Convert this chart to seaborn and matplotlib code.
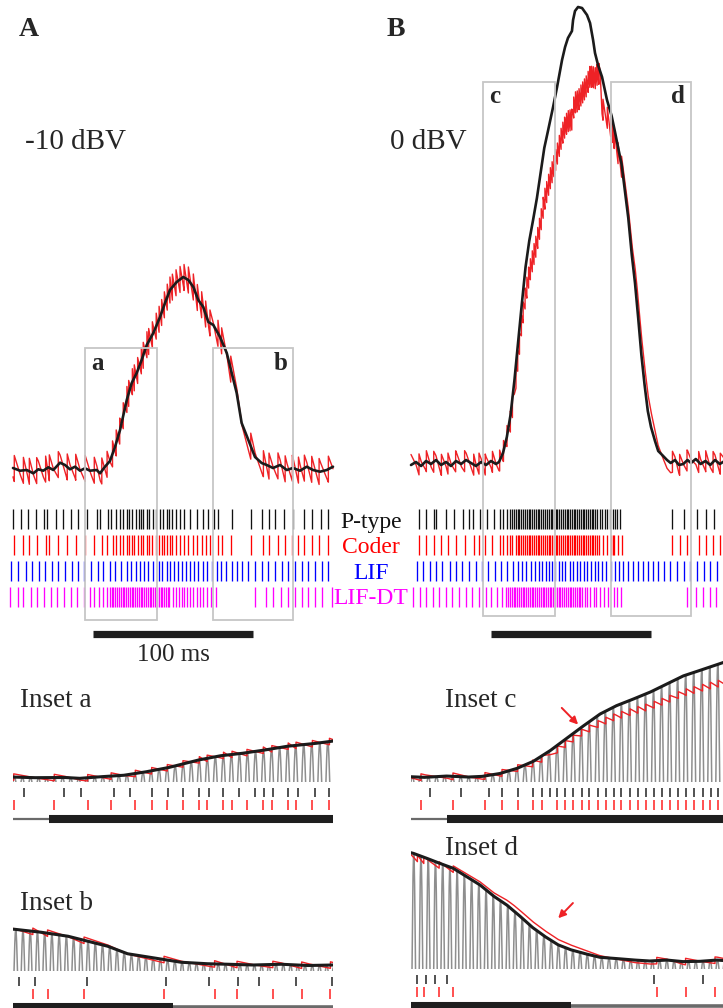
import numpy as np
import matplotlib
matplotlib.use("Agg")
import matplotlib.pyplot as plt
from matplotlib.patches import Rectangle
from matplotlib.transforms import blended_transform_factory
import seaborn as sns

sns.set_style("white")
plt.rcParams["font.family"] = ["Liberation Serif", "DejaVu Serif"]

# ---------------------------------------------------------------- data
# Stimulus amplitude envelope, panel A (-10 dBV): time (ms), amplitude (a.u.)
A_ENV_T = [0, 4.4, 8.6, 12.7, 15.8, 18.9, 22.1, 25.2, 29.4, 32.5, 35.6, 38.75, 41.9, 45, 48.1,
           52.3, 54.4, 57.5, 60.6, 63.75, 66.9, 71.1, 74.2, 77.3, 80.4, 83.6, 87.7, 91.9, 95,
           98.1, 102.3, 106.4, 109.6, 112.7, 115.8, 118.9, 122.1, 125.2, 129.4, 133.6, 136.7,
           139.8, 142.9, 147.1, 151.25, 155.4, 158.6, 162.5, 166.9, 171.1, 175, 179.4, 183.6,
           187.5, 191.9, 196.1, 200]
A_ENV_U = [2, -0.7, 0, -3.3, 0.7, -0.7, 2.7, 0, 7.3, 5, 0.7, 3.3, -0.7, 1.7, -0.7,
           0, -3.3, 3.3, 9, 23, 40, 70, 87, 97, 110, 125, 137, 153, 167,
           180, 188, 193, 190, 183, 170, 163, 148, 145, 133, 117, 97,
           77, 47, 30, 13, 7, 5, 2, 5, 0, 2, -0.7, 3.3,
           0, -1.7, 0, 3.3]

# Stimulus amplitude envelope, panel B (0 dBV)
B_ENV_T = [0, 3.1, 6.3, 9.4, 12.5, 15.6, 18.8, 21.9, 25.0, 28.1, 31.3, 34.4, 37.5, 40.6, 43.8,
           46.9, 50.0, 53.1, 55.0, 57.5, 59.9, 62.2, 64.6, 66.9, 69.2, 71.6, 73.9, 76.3, 78.7,
           81.0, 83.3, 85.6, 88.8, 91.3, 94.4, 96.3, 98.1, 100.6, 101.3, 102.5, 104.4, 106.9,
           110.0, 111.9, 113.8, 115.0, 116.9, 119.4, 122.5, 125.4, 127.5, 129.5, 131.6, 133.7,
           135.8, 138.0, 140.0, 142.0, 144.0, 146.0, 148.0, 150.0, 152.5, 154.5, 157.0, 160.0,
           162.3, 165.0, 167.5, 170.2, 172.8, 175.0, 178.0, 181.0, 184.0, 187.0, 190.0, 193.0,
           196.0, 200.0]
B_ENV_U = [-2, 1, -3, 2, -1, 3, -2, 1, -3, 2, -1, 3, 0, -3, 1,
           -2, 2, -1, 1, 10, 26, 48, 82, 120, 158, 196, 222, 243, 265,
           290, 315, 332, 356, 376, 403, 416, 425, 432, 443, 452, 456, 455,
           448, 440, 423, 410, 398, 386, 363, 347, 331, 315, 299, 272,
           245, 208, 180, 145, 108, 78, 52, 36, 22, 12, 8, 3,
           0, 3, -2, -1, 3, 0, 4, -1, 2, -2, 3, -1,
           2, 0]

# Lag of the Coder reconstruction behind the envelope in panel B
B_LAG_T = [0, 60, 64.5, 69, 71.6, 76.3, 81, 86.9, 88.8, 93.1, 97.5, 101.3, 104.4, 107, 110,
           113.8, 116.9, 118.2, 119.4, 122.5, 126.3, 130.6, 133.7, 138, 141, 144, 147, 150,
           153, 157, 160, 200]
B_LAG_U = [0, 0, -12, -17, -28, -38, -50, -58, -62, -72, -82, -90, -94, -85, -70,
           -37, -8, -4, -31, -17, -11, -4, 0, 5, 14, 17, 18, 17,
           13, 5, 0, 0]

# Spike times (ms)
A_PTYPE = [0.0, 4.8, 9.6, 14.4, 19.6, 21.1, 26.9, 31.4, 36.3, 40.8,
           46.5, 52.2, 54.6, 59.2, 61.5, 64.6, 66.8, 68.9, 71.2, 72.6, 74.6, 76.8, 79.0, 80.3,
           81.5, 83.7, 85.1, 87.5, 89.5,
           91.9, 93.9, 96.0, 97.7, 99.6, 101.9, 104.4, 106.9, 110.6, 115.2, 118.9, 122.1,
           125.9, 128.4, 136.6, 148.9, 155.7, 160.1, 163.5, 169.2, 174.8,
           182.1, 187.1, 192.5, 197.1]
A_CODER = [0.8, 6.5, 10.2, 14.8, 20.4, 22.7, 28.3, 33.9, 39.2,
           45.1, 50.8, 55.5, 58.8, 62.2, 64.5, 66.7, 68.9, 71.2, 72.3, 74.6, 75.8, 77.9, 80.2,
           81.4, 83.7, 84.8, 87.1, 89.5,
           91.3, 92.9, 94.6, 96.4, 98.1, 99.6, 101.9, 104.4, 106.9, 109.6, 112.7, 115.2, 117.9,
           120.4, 123.1,
           128.1, 130.4, 136.1, 148.6, 156.5, 160.0, 165.6, 170.1, 174.6,
           178.4, 182.1, 186.7, 191.3, 197.1]
A_LIF = [-1.2, 3.3, 7.9, 11.7, 16.3, 20.0, 24.2, 28.3, 32.5, 36.7, 40.4, 44.6, 48.8, 52.9,
         56.4, 60.6, 63.8, 67.5, 71.1, 73.8, 76.7, 79.4, 82.1, 84.6, 87.7, 91.3, 93.3, 96.1,
         98.1, 100.6, 103.3, 105.8, 108.1, 110.6, 113.3, 115.8, 118.5, 121.4, 124.2, 127.3,
         130.0, 133.1, 136.7, 139.8, 143.3, 147.1, 151.3, 155.4, 159.6, 163.8, 167.9, 172.1,
         176.3, 180.4, 184.6, 188.8, 192.9, 197.1]
A_LIFDT = [-1.9, 2.9, 6.4, 11.0, 15.2, 19.4, 23.8, 27.7, 31.9, 36.1, 40.2, 44.4, 48.1, 50.8,
           53.8, 56.4, 58.5, 60.6,
           61.7, 62.8, 64.0, 65.1, 66.2, 67.4, 68.5, 69.6, 70.7, 71.9, 73.0, 74.1, 75.3, 76.4,
           77.5, 78.6, 79.8, 80.9, 82.0, 83.2, 84.3, 85.4, 86.5, 87.7, 88.8, 89.9, 91.1, 92.2,
           93.3, 94.4, 95.6, 96.7, 97.8,
           100.2, 101.9, 103.8, 105.4, 107.1, 108.9, 110.6, 112.7, 114.8, 116.9, 118.9, 121.4,
           123.5, 126.7,
           151.3, 157.9, 162.7, 167.3, 172.1, 176.3, 180.4, 184.6, 188.8, 192.9, 199.5]

B_PTYPE = [5.0, 9.6, 14.4, 15.8, 22.1, 26.9, 32.5, 36.3, 38.8, 43.3,
           47.7, 52.1, 55.9, 57.8, 60.1, 62.1, 63.4, 64.6, 65.6, 66.7, 67.8, 69.0, 70.1, 71.3,
           72.4, 73.5, 74.6, 75.8, 76.9, 78.0, 79.2, 80.3, 81.4, 82.6, 83.7, 84.8, 86.0, 87.2,
           88.2,
           89.3, 90.4, 91.5, 92.7, 93.8, 94.9, 96.0, 97.2, 98.3, 99.4, 100.5, 101.7, 102.8,
           103.9, 105.0, 106.2, 107.3, 108.4, 109.5, 110.7, 111.8, 112.9, 114.0, 115.2, 116.3,
           117.9, 119.6, 121.1, 122.7, 124.2,
           126.0, 127.3, 128.8, 130.7, 162.9, 170.6,
           178.8, 184.2, 189.2]
B_CODER = [5.0, 9.6, 14.2, 19.0, 23.1, 27.9, 33.5, 39.2, 42.5,
           46.4, 50.9, 55.4, 57.8, 60.0, 62.1, 63.4, 65.6, 66.7, 67.8, 69.0, 70.1, 71.3, 72.4,
           73.5, 74.6, 75.8, 76.9, 78.0, 79.2, 80.3, 81.4, 82.6, 83.7, 84.8, 86.0, 87.1, 88.2,
           89.3, 90.4, 91.5, 92.7, 93.8, 94.9, 96.0, 97.2, 98.3, 99.4, 100.5, 101.7, 102.8,
           103.9, 105.0, 106.2, 107.3, 108.4, 109.5, 110.7, 111.8, 112.9, 114.0, 115.2, 116.3,
           117.4, 120.0, 122.7, 124.8,
           126.0, 127.0, 129.4, 131.6, 163.4, 167.9, 172.5,
           179.8, 184.2, 188.8, 193.3]
B_LIF = [3.8, 7.5, 11.7, 15.8, 19.6, 24.2, 28.3, 32.1, 36.1, 40.4, 44.4, 48.1, 52.3, 56.5,
         60.2, 64.0, 66.9, 69.6, 72.1, 74.8, 77.3, 79.8, 82.1, 84.2, 86.3, 88.1, 90.2, 92.3,
         94.4, 96.3, 99.2, 101.3, 103.8, 105.8, 107.9, 110.0, 112.3, 114.8, 116.9, 119.4,
         122.1, 124.8, 127.3, 130.0, 132.5, 135.6, 138.8, 141.9, 145.0, 148.1, 151.3, 154.4,
         158.0, 162.1, 166.3, 170.4, 174.6, 178.8, 182.9, 187.1, 191.3]
B_LIFDT = [1.3, 5.4, 9.6, 13.8, 17.5, 21.7, 25.8, 30.0, 34.2, 38.3, 42.5, 47.1, 50.2, 53.9,
           57.1,
           59.6, 60.7, 61.8, 63.0, 64.1, 65.2, 66.4, 67.5, 68.6, 69.7, 70.9, 72.0, 73.1, 74.3,
           75.4, 76.5, 77.6, 78.8, 79.9, 81.0, 82.2, 83.3, 84.4, 85.5, 86.7, 87.8, 88.9, 90.1,
           91.2, 92.3, 93.4, 94.6, 95.7, 96.8, 98.0, 99.1, 100.2, 101.3, 102.5, 103.6, 104.7,
           105.9, 107.0,
           108.5, 110.0, 111.7, 114.2, 115.8, 118.3, 120.4, 123.1, 126.7, 128.9, 131.5,
           172.5, 177.9, 182.5, 186.7, 190.8]

ROW_NAMES = ["P-type", "Coder", "LIF", "LIF-DT"]
ROW_COLORS = ["#111111", "#ff0000", "#0000ff", "#ff00ff"]
INSET_WINDOWS = {"a": (45, 90), "b": (125, 175), "c": (45, 90), "d": (125, 175)}
SCALE_BAR = (50, 150)      # ms
EOD_PERIOD = 1.13          # ms, carrier period
A_JUMP, B_JUMP = 26, 21    # Coder reconstruction step per spike (a.u.)

# ---------------------------------------------------------------- style
BLACK = "#1b1b1b"
RED = "#ee2226"
GRAY = "#8e8e8e"
BOX = "#c6c6c6"
W, H = 723, 1008

fig = plt.figure(figsize=(W / 100, H / 100), dpi=100)


def px_axes(x0, y0, x1, y1, xlim, ylim):
    ax = fig.add_axes([x0 / W, 1 - y1 / H, (x1 - x0) / W, (y1 - y0) / H])
    ax.set_xlim(*xlim)
    ax.set_ylim(*ylim)
    ax.set_axis_off()
    ax.patch.set_alpha(0)
    return ax


def px_text(x, y, s, **kw):
    fig.text(x / W, 1 - y / H, s, **kw)


def coder_trace(spikes, env_t, env_u, jump, lag_t=None, lag_u=None,
                t_start=0.0, t_end=200.0, step=0.2):
    """Sawtooth reconstruction: steps up at each Coder spike, ramps down until the next."""
    sp = np.asarray(spikes, float)
    edges = np.concatenate([[min(sp[0] - 5.0, t_start)], sp, [max(sp[-1] + 5.0, t_end)]])
    ts, us = [], []
    for a, b in zip(edges[:-1], edges[1:]):
        lo, hi = max(a, t_start), min(b, t_end)
        if hi <= lo:
            continue
        n = int(np.ceil((hi - lo) / step)) + 1
        tt = np.linspace(lo, hi, n)
        level = np.interp(tt, env_t, env_u)
        if lag_t is not None:
            level = level + np.interp(tt, lag_t, lag_u)
        ts.append(tt)
        us.append(level + jump * (0.5 - (tt - a) / (b - a)))
    return np.concatenate(ts), np.concatenate(us)


def carrier(win, env_t, env_u, zero):
    """EOD carrier whose peak amplitude follows the envelope, measured from its zero level."""
    t = np.arange(win[0] - EOD_PERIOD, win[1] + EOD_PERIOD, EOD_PERIOD / 32)
    amp = np.interp(t, env_t, env_u) - zero
    return t, zero + amp * np.cos(2 * np.pi * t / EOD_PERIOD)


def line(ax, x, y, color, lw, clip=True):
    sns.lineplot(x=x, y=y, ax=ax, color=color, linewidth=lw, estimator=None,
                 sort=False, legend=False)
    ax.lines[-1].set_clip_on(clip)
    ax.set_axis_off()


A_RED = coder_trace(A_CODER, A_ENV_T, A_ENV_U, A_JUMP)
B_RED = coder_trace(B_CODER, B_ENV_T, B_ENV_U, B_JUMP, B_LAG_T, B_LAG_U)

PANELS = [
    dict(letter="A", letter_x=19, x0=13, base=470, env=(A_ENV_T, A_ENV_U), red=A_RED,
         spikes=[A_PTYPE, A_CODER, A_LIF, A_LIFDT], box=(348, 620), box_label_y=370,
         boxes="ab", level="-10 dBV", level_x=25),
    dict(letter="B", letter_x=387, x0=411, base=463, env=(B_ENV_T, B_ENV_U), red=B_RED,
         spikes=[B_PTYPE, B_CODER, B_LIF, B_LIFDT], box=(82, 616), box_label_y=103,
         boxes="cd", level="0 dBV", level_x=390),
]

ROW_Y = [519, 545, 571, 597]
for p in PANELS:
    x0 = p["x0"]
    # traces
    ax = px_axes(x0, 0, x0 + 320, 500, (0, 200), (p["base"] - 500, p["base"]))
    line(ax, p["red"][0], p["red"][1], RED, 1.0, clip=False)
    line(ax, p["env"][0], p["env"][1], BLACK, 1.9, clip=False)

    # spike rasters
    rax = px_axes(x0, 506, x0 + 320, 610, (0, 200), (610, 506))
    coll = rax.eventplot([np.asarray(s) for s in p["spikes"]], lineoffsets=ROW_Y,
                         linelengths=20, colors=ROW_COLORS, linewidths=0.95)
    for c in coll:
        c.set_clip_on(False)

    # scale bar
    sax = px_axes(x0, 626, x0 + 320, 641, (0, 200), (-1, 1))
    sax.plot(SCALE_BAR, [0, 0], color="#1e1e1e", lw=5.2, solid_capstyle="butt")

    # inset boxes
    tr = blended_transform_factory(rax.transData, fig.transFigure)
    y0, y1 = p["box"]
    for i, key in enumerate(p["boxes"]):
        t0, t1 = INSET_WINDOWS[key]
        fig.add_artist(Rectangle((t0, 1 - y1 / H), t1 - t0, (y1 - y0) / H, fill=False,
                                 ec=BOX, lw=1.3, transform=tr, zorder=6))
        if i == 0:
            fig.text(t0 + 3.6, 1 - p["box_label_y"] / H, key, transform=tr, ha="left",
                     va="baseline", fontsize=18, fontweight="bold")
        else:
            fig.text(t1 - 3.6, 1 - p["box_label_y"] / H, key, transform=tr, ha="right",
                     va="baseline", fontsize=18, fontweight="bold")

    px_text(p["letter_x"], 36, p["letter"], ha="left", va="baseline", fontsize=20,
            fontweight="bold")
    px_text(p["level_x"], 149, p["level"], ha="left", va="baseline", fontsize=21)

px_text(173, 661, "100 ms", ha="center", va="baseline", fontsize=18)

for name, color, yb in zip(ROW_NAMES, ROW_COLORS, [528, 553, 579, 604]):
    px_text(371, yb, name, ha="center", va="baseline", fontsize=17, color=color)

# ---------------------------------------------------------------- insets
INSETS = [
    dict(key="a", p=PANELS[0], x0=13, top=700, bot=782, base=777.5, k=0.25, zero=785.3,
         title=(20, 707), arrow=None, bar_dy=37, thin_lw=1.6),
    dict(key="b", p=PANELS[0], x0=13, top=890, bot=971, base=965.5, k=0.25, zero=974.3,
         title=(20, 910), arrow=None, bar_dy=36, thin_lw=2.6),
    dict(key="c", p=PANELS[1], x0=411, top=640, bot=782, base=776.7, k=0.32, zero=785.3,
         title=(445, 707), arrow=((66.2, 215), (68.5, 163)), bar_dy=37, thin_lw=1.6),
    dict(key="d", p=PANELS[1], x0=411, top=830, bot=969, base=961, k=0.31, zero=972.3,
         title=(445, 855), arrow=((150.3, 187), (148.0, 138)), bar_dy=37, thin_lw=2.6),
]

for ins in INSETS:
    p = ins["p"]
    win = INSET_WINDOWS[ins["key"]]
    x0 = ins["x0"]
    ylo = (ins["base"] - ins["bot"]) / ins["k"]
    yhi = (ins["base"] - ins["top"]) / ins["k"]
    ax = px_axes(x0, ins["top"], x0 + 320, ins["bot"], win, (ylo, yhi))
    ct, cu = carrier(win, p["env"][0], p["env"][1], (ins["base"] - ins["zero"]) / ins["k"])
    line(ax, ct, cu, GRAY, 1.1)
    line(ax, p["red"][0], p["red"][1], RED, 1.0)
    line(ax, p["env"][0], p["env"][1], BLACK, 2.2)
    if ins["arrow"] is not None:
        tail, head = ins["arrow"]
        ax.annotate("", xy=head, xytext=tail, annotation_clip=False,
                    arrowprops=dict(arrowstyle="-|>", color=RED, lw=1.4,
                                    mutation_scale=11, shrinkA=0, shrinkB=0))
    px_text(ins["title"][0], ins["title"][1], "Inset " + ins["key"], ha="left",
            va="baseline", fontsize=19.5)

    # spikes of the P-type unit and the Coder inside the window, plus the time bar
    b = ins["bot"]
    lax = px_axes(x0, b, x0 + 320, b + 50, win, (b + 50, b))
    rows = []
    for s in p["spikes"][:2]:
        s = np.asarray(s)
        rows.append(s[(s >= win[0]) & (s <= win[1])])
    lax.eventplot(rows, lineoffsets=[b + 10.5, b + 23], linelengths=[9, 10],
                  colors=["#222222", "#ff2020"], linewidths=1.1)
    bar_y = b + ins["bar_dy"]
    lax.plot(win, [bar_y, bar_y], color="#6a6a6a", lw=ins["thin_lw"], solid_capstyle="butt")
    lax.plot([max(win[0], SCALE_BAR[0]), min(win[1], SCALE_BAR[1])], [bar_y, bar_y],
             color="#1e1e1e", lw=5.8, solid_capstyle="butt")

fig.savefig("out.png", dpi=100)
